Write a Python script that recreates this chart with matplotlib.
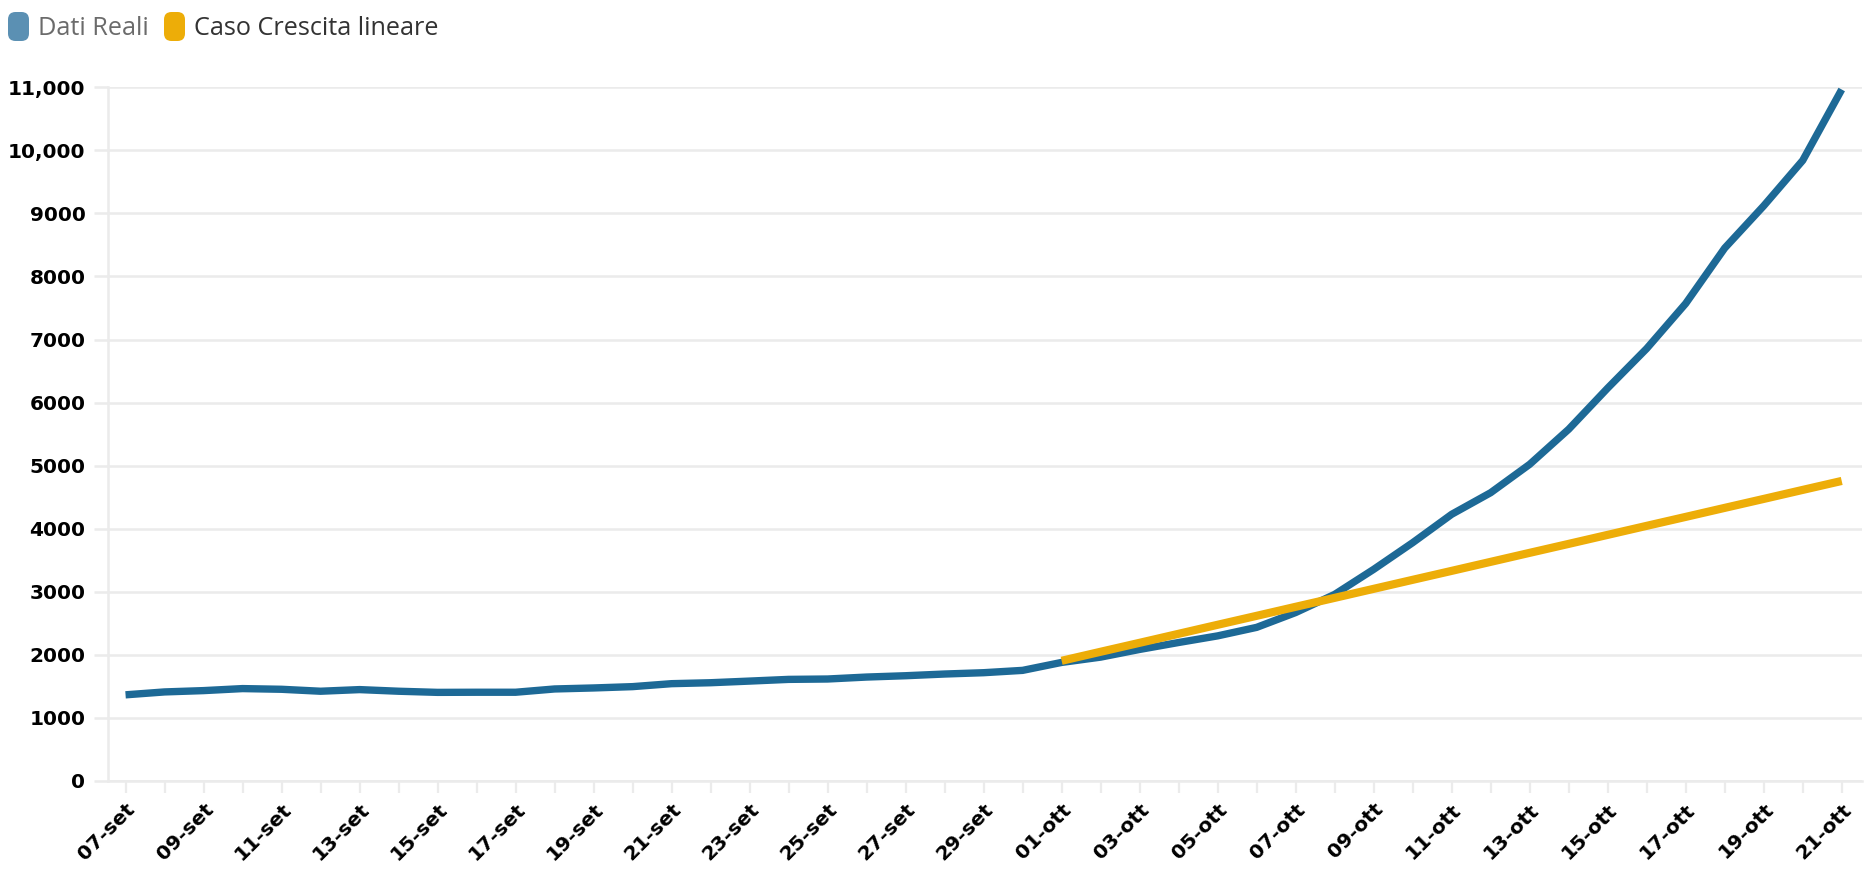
import matplotlib
matplotlib.use('Agg')
import matplotlib.pyplot as plt
from matplotlib.patches import FancyBboxPatch

# ---- data ----
dates = ['07-set', '08-set', '09-set', '10-set', '11-set', '12-set', '13-set', '14-set',
         '15-set', '16-set', '17-set', '18-set', '19-set', '20-set', '21-set', '22-set',
         '23-set', '24-set', '25-set', '26-set', '27-set', '28-set', '29-set', '30-set',
         '01-ott', '02-ott', '03-ott', '04-ott', '05-ott', '06-ott', '07-ott', '08-ott',
         '09-ott', '10-ott', '11-ott', '12-ott', '13-ott', '14-ott', '15-ott', '16-ott',
         '17-ott', '18-ott', '19-ott', '20-ott', '21-ott']

dati_reali = [1365, 1411, 1432, 1464, 1453, 1422, 1448, 1422, 1404, 1406,
              1406, 1458, 1474, 1495, 1542, 1557, 1583, 1610, 1616, 1647,
              1668, 1695, 1716, 1753, 1879, 1963, 2085, 2195, 2300, 2435,
              2670, 2958, 3355, 3778, 4228, 4571, 5021, 5577, 6230, 6857,
              7571, 8450, 9120, 9840, 10965]

crescita_start = '01-ott'
crescita_lineare = [1905, 2048, 2190, 2333, 2476, 2618, 2761, 2903, 3046, 3189,
                    3331, 3474, 3617, 3759, 3902, 4045, 4187, 4330, 4472, 4615, 4757]

y_ticks = [0, 1000, 2000, 3000, 4000, 5000, 6000, 7000, 8000, 9000, 10000, 11000]
y_tick_labels = ['0', '1000', '2000', '3000', '4000', '5000', '6000', '7000',
                 '8000', '9000', '10,000', '11,000']

series_names = ['Dati Reali', 'Caso Crescita lineare']

# ---- style ----
BLUE = '#1D6996'
YELLOW = '#EDAD08'
GRID = '#ebebeb'

W, H = 1875, 877
fig = plt.figure(figsize=(W / 100, H / 100), dpi=100)
fig.patch.set_facecolor('white')

left_px, right_px, top_px, bottom_px = 107.6, 1862, 87.3, 780.9
ax = fig.add_axes([left_px / W, 1 - bottom_px / H,
                   (right_px - left_px) / W, (bottom_px - top_px) / H])

x = list(range(len(dates)))
ax.plot(x, dati_reali, color=BLUE, lw=5.3, solid_capstyle='butt',
        solid_joinstyle='round', zorder=3)
s = dates.index(crescita_start)
ax.plot(list(range(s, s + len(crescita_lineare))), crescita_lineare, color=YELLOW,
        lw=5.9, solid_capstyle='butt', solid_joinstyle='round', zorder=4)

ax.set_xlim(-0.46, 44.52)
ax.set_ylim(0, 11000)

ax.set_yticks(y_ticks)
ax.set_yticklabels(y_tick_labels, fontsize=14.5, fontweight='bold',
                   fontfamily='DejaVu Sans', color='black')
ax.yaxis.grid(True, color=GRID, lw=1.8)
ax.set_axisbelow(True)

ax.set_xticks(x)
ax.set_xticklabels([d if i % 2 == 0 else '' for i, d in enumerate(dates)],
                   fontsize=14.5, fontweight='bold', fontfamily='DejaVu Sans',
                   rotation=45, ha='right', va='top', rotation_mode='anchor')

ax.tick_params(axis='x', length=8.6, width=1.6, color=GRID, pad=5)
ax.tick_params(axis='y', length=10, width=1.8, color=GRID, pad=6)

for side in ['top', 'right']:
    ax.spines[side].set_visible(False)
for side in ['left', 'bottom']:
    ax.spines[side].set_color(GRID)
    ax.spines[side].set_linewidth(1.8)

# ---- legend (top-left) ----
def swatch(x0, x1, y0, y1, color):
    p = FancyBboxPatch((x0 / W, 1 - y1 / H), (x1 - x0) / W, (y1 - y0) / H,
                       boxstyle='round,pad=0,rounding_size=0.004',
                       transform=fig.transFigure, facecolor=color,
                       edgecolor='none', mutation_aspect=W / H)
    fig.patches.append(p)

swatch(8, 29, 12, 41, '#5b90b3')
fig.text(38 / W, 1 - 28.5 / H, series_names[0], fontsize=18.2, fontfamily='Open Sans',
         color='#6b6b6b', va='center', ha='left')
swatch(164, 185, 12, 41, YELLOW)
fig.text(194 / W, 1 - 28.5 / H, series_names[1], fontsize=18.2, fontfamily='Open Sans',
         color='#333333', va='center', ha='left')

fig.savefig('out.png', dpi=100, facecolor='white')
